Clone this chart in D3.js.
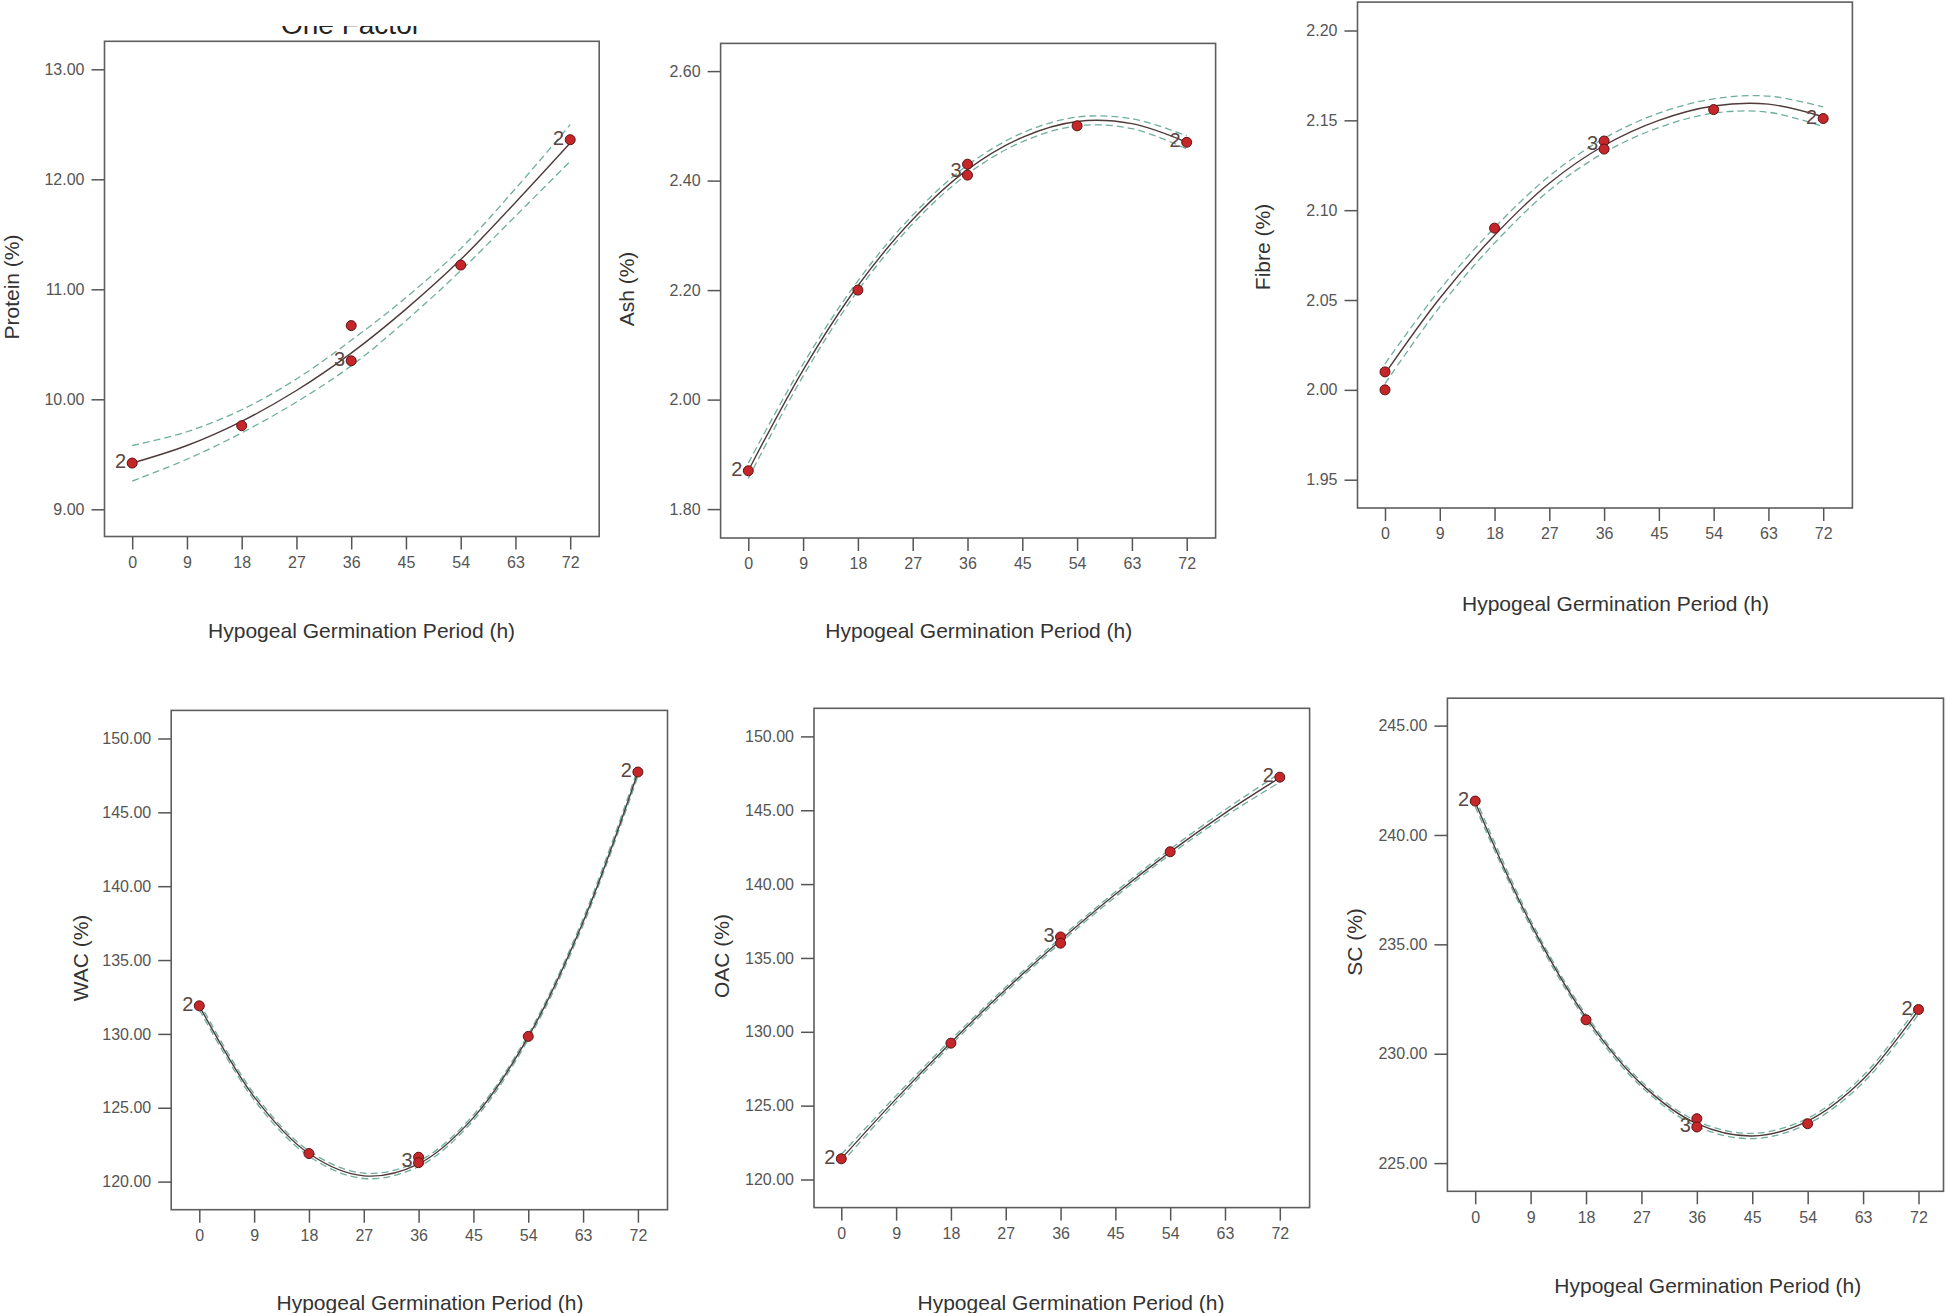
<!DOCTYPE html>
<html>
<head>
<meta charset="utf-8">
<script src="https://cdn.jsdelivr.net/npm/d3@7"></script>
<style>
  html, body { margin: 0; padding: 0; background: #ffffff; }
  svg { display: block; }
</style>
</head>
<body>
<svg id="chart" width="1946" height="1313"></svg>
<script>
// ---------------- DATA ----------------
const xTickValues = [0, 9, 18, 27, 36, 45, 54, 63, 72];
const fitHours = [0, 9, 18, 27, 36, 45, 54, 63, 72];
const xTitleText = "Hypogeal Germination Period (h)";
const topTitleText = "One Factor";

// Protein
const proteinX = [0, 18, 36, 36, 54, 72];
const proteinY = [9.42, 9.76, 10.67, 10.35, 11.22, 12.36];
const proteinFit = [9.42, 9.58, 9.80, 10.08, 10.42, 10.82, 11.27, 11.79, 12.33];
const proteinUpper = [9.58, 9.705, 9.905, 10.185, 10.536, 10.925, 11.37, 11.915, 12.497];
const proteinLower = [9.257, 9.455, 9.695, 9.975, 10.304, 10.715, 11.17, 11.665, 12.163];
const proteinTicks = [9, 10, 11, 12, 13];
const proteinLabelX = [0, 36, 72];
const proteinLabelY = [9.42, 10.35, 12.36];
const proteinLabelText = ["2", "3", "2"];

// Ash
const ashX = [0, 18, 36, 36, 54, 72];
const ashY = [1.87, 2.20, 2.43, 2.41, 2.50, 2.47];
const ashFit = [1.87, 2.054, 2.208, 2.329, 2.42, 2.479, 2.508, 2.504, 2.47];
const ashUpper = [1.884, 2.065, 2.217, 2.337, 2.428, 2.487, 2.516, 2.513, 2.482];
const ashLower = [1.856, 2.043, 2.199, 2.321, 2.412, 2.471, 2.500, 2.495, 2.458];
const ashTicks = [1.8, 2.0, 2.2, 2.4, 2.6];
const ashLabelX = [0, 36, 72];
const ashLabelY = [1.87, 2.415, 2.47];
const ashLabelText = ["2", "3", "2"];

// Fibre
const fibreX = [0, 0, 18, 36, 36, 54, 72];
const fibreY = [2.01, 2.00, 2.09, 2.1385, 2.134, 2.156, 2.151];
const fibreFit = [2.009, 2.051, 2.086, 2.115, 2.136, 2.150, 2.158, 2.159, 2.152];
const fibreUpper = [2.0145, 2.0558, 2.0903, 2.119, 2.140, 2.154, 2.162, 2.1635, 2.1575];
const fibreLower = [2.0035, 2.0462, 2.0817, 2.111, 2.132, 2.146, 2.154, 2.1545, 2.1465];
const fibreTicks = [1.95, 2.00, 2.05, 2.10, 2.15, 2.20];
const fibreLabelX = [36, 72];
const fibreLabelY = [2.136, 2.151];
const fibreLabelText = ["3", "2"];

// WAC
const wacX = [0, 18, 36, 36, 54, 72];
const wacY = [131.9, 121.9, 121.65, 121.28, 129.83, 147.73];
const wacFit = [131.9, 125.74, 121.90, 120.39, 121.2, 124.33, 129.80, 137.58, 147.7];
const wacUpper = [132.15, 125.95, 122.08, 120.57, 121.38, 124.51, 129.98, 137.8, 147.95];
const wacLower = [131.65, 125.53, 121.72, 120.21, 121.02, 124.15, 129.62, 137.36, 147.45];
const wacTicks = [120, 125, 130, 135, 140, 145, 150];
const wacLabelX = [0, 36, 72];
const wacLabelY = [131.9, 121.3, 147.73];
const wacLabelText = ["2", "3", "2"];

// OAC
const oacX = [0, 18, 36, 36, 54, 72];
const oacY = [121.4, 129.23, 136.42, 136.0, 142.19, 147.24];
const oacFit = [121.4, 125.46, 129.28, 132.86, 136.2, 139.31, 142.18, 144.81, 147.2];
const oacUpper = [121.7, 125.68, 129.46, 133.03, 136.37, 139.48, 142.36, 145.03, 147.5];
const oacLower = [121.1, 125.24, 129.1, 132.69, 136.03, 139.14, 142.0, 144.59, 146.9];
const oacTicks = [120, 125, 130, 135, 140, 145, 150];
const oacLabelX = [0, 36, 72];
const oacLabelY = [121.4, 136.42, 147.24];
const oacLabelText = ["2", "3", "2"];

// SC
const scX = [0, 18, 36, 36, 54, 72];
const scY = [241.55, 231.55, 227.03, 226.65, 226.8, 232.02];
const scFit = [241.5, 235.96, 231.66, 228.61, 226.8, 226.24, 226.92, 228.83, 232.0];
const scUpper = [241.7, 236.11, 231.79, 228.73, 226.92, 226.36, 227.05, 228.99, 232.2];
const scLower = [241.3, 235.81, 231.53, 228.49, 226.68, 226.12, 226.79, 228.67, 231.8];
const scTicks = [225, 230, 235, 240, 245];
const scLabelX = [0, 36, 72];
const scLabelY = [241.55, 226.65, 232.02];
const scLabelText = ["2", "3", "2"];

// ---------------- LAYOUT ----------------
const panels = [
  { yTitle: "Protein (%)", x: proteinX, y: proteinY, fit: proteinFit, up: proteinUpper, lo: proteinLower,
    ticks: proteinTicks, fmt: ".2f", lx: proteinLabelX, ly: proteinLabelY, lt: proteinLabelText,
    frame: [104.5, 41.3, 599.2, 536.5], xr: [132.2, 570.2], yd: [9, 13], yr: [509.3, 69.3],
    xt: [361.6, 630], yt: [11, 287] },
  { yTitle: "Ash (%)", x: ashX, y: ashY, fit: ashFit, up: ashUpper, lo: ashLower,
    ticks: ashTicks, fmt: ".2f", lx: ashLabelX, ly: ashLabelY, lt: ashLabelText,
    frame: [720.6, 43.4, 1215.6, 538], xr: [748.3, 1186.7], yd: [1.8, 2.6], yr: [509.1, 71.1],
    xt: [978.8, 630], yt: [626, 289] },
  { yTitle: "Fibre (%)", x: fibreX, y: fibreY, fit: fibreFit, up: fibreUpper, lo: fibreLower,
    ticks: fibreTicks, fmt: ".2f", lx: fibreLabelX, ly: fibreLabelY, lt: fibreLabelText,
    frame: [1357.5, 2.1, 1852.4, 508], xr: [1385, 1823.2], yd: [1.95, 2.20], yr: [479.7, 30.5],
    xt: [1615.5, 603.3], yt: [1262, 247] },
  { yTitle: "WAC (%)", x: wacX, y: wacY, fit: wacFit, up: wacUpper, lo: wacLower,
    ticks: wacTicks, fmt: ".2f", lx: wacLabelX, ly: wacLabelY, lt: wacLabelText,
    frame: [171.2, 710.4, 667.5, 1209.7], xr: [199.3, 637.9], yd: [120, 150], yr: [1181.6, 738.5],
    xt: [430, 1302], yt: [80, 958] },
  { yTitle: "OAC (%)", x: oacX, y: oacY, fit: oacFit, up: oacUpper, lo: oacLower,
    ticks: oacTicks, fmt: ".2f", lx: oacLabelX, ly: oacLabelY, lt: oacLabelText,
    frame: [814, 708.3, 1309.6, 1207.6], xr: [841.3, 1279.8], yd: [120, 150], yr: [1179.5, 736.4],
    xt: [1071, 1302], yt: [721, 956] },
  { yTitle: "SC (%)", x: scX, y: scY, fit: scFit, up: scUpper, lo: scLower,
    ticks: scTicks, fmt: ".2f", lx: scLabelX, ly: scLabelY, lt: scLabelText,
    frame: [1447.4, 698.2, 1943.5, 1191.3], xr: [1475.2, 1918.5], yd: [225, 245], yr: [1163.1, 725.6],
    xt: [1707.8, 1285], yt: [1354, 942] }
];

const svg = d3.select("#chart");
const tickFont = "'Liberation Sans Narrow', 'Arial Narrow', 'Liberation Sans', Arial, sans-serif";
const titleFont = "'Liberation Sans', Arial, sans-serif";

// Top (cropped) title
svg.append("defs").append("clipPath").attr("id", "titleClip")
  .append("rect").attr("x", 200).attr("y", 26).attr("width", 300).attr("height", 14);
svg.append("text")
  .attr("clip-path", "url(#titleClip)")
  .attr("x", 351).attr("y", 33.5)
  .attr("text-anchor", "middle")
  .attr("font-family", titleFont)
  .attr("font-size", 28)
  .attr("fill", "#222")
  .text(topTitleText);

panels.forEach((p, i) => {
  const [L, T, R, B] = p.frame;
  const xs = d3.scaleLinear().domain([0, 72]).range(p.xr);
  const ys = d3.scaleLinear().domain(p.yd).range(p.yr);
  const g = svg.append("g").attr("class", "panel panel-" + i);

  // frame
  g.append("rect")
    .attr("x", L).attr("y", T).attr("width", R - L).attr("height", B - T)
    .attr("fill", "#ffffff").attr("stroke", "#5e5e5e").attr("stroke-width", 1.6);

  // y axis (ticks outside the left frame edge)
  const yAxis = d3.axisLeft(ys).tickValues(p.ticks).tickFormat(d3.format(p.fmt))
    .tickSize(13).tickPadding(7);
  const yg = g.append("g").attr("transform", `translate(${L},0)`).call(yAxis);
  yg.select(".domain").remove();
  yg.selectAll(".tick line").attr("stroke", "#555").attr("stroke-width", 1.5);
  yg.selectAll(".tick text").attr("font-family", tickFont).attr("font-size", 16).attr("fill", "#555");

  // x axis (ticks below the bottom frame edge)
  const xAxis = d3.axisBottom(xs).tickValues(xTickValues).tickFormat(d3.format("d"))
    .tickSize(13).tickPadding(7);
  const xg = g.append("g").attr("transform", `translate(0,${B})`).call(xAxis);
  xg.select(".domain").remove();
  xg.selectAll(".tick line").attr("stroke", "#555").attr("stroke-width", 1.5);
  xg.selectAll(".tick text").attr("font-family", tickFont).attr("font-size", 16).attr("fill", "#555");

  // axis titles
  g.append("text")
    .attr("x", p.xt[0]).attr("y", p.xt[1])
    .attr("text-anchor", "middle").attr("dominant-baseline", "central")
    .attr("font-family", titleFont).attr("font-size", 21).attr("fill", "#333")
    .text(xTitleText);
  g.append("text")
    .attr("transform", `translate(${p.yt[0]},${p.yt[1]}) rotate(-90)`)
    .attr("text-anchor", "middle").attr("dominant-baseline", "central")
    .attr("font-family", titleFont).attr("font-size", 21).attr("fill", "#333")
    .text(p.yTitle);

  // curves
  const mk = arr => fitHours.map((h, k) => [h, arr[k]]);
  const line = d3.line().x(d => xs(d[0])).y(d => ys(d[1])).curve(d3.curveCatmullRom.alpha(0.5));
  [p.up, p.lo].forEach(arr => {
    g.append("path").attr("d", line(mk(arr)))
      .attr("fill", "none").attr("stroke", "#6fae9f").attr("stroke-width", 1.3)
      .attr("stroke-dasharray", "7,4");
  });
  g.append("path").attr("d", line(mk(p.fit)))
    .attr("fill", "none").attr("stroke", "#4f3a3a").attr("stroke-width", 1.4);

  // replicate count labels
  p.lt.forEach((t, k) => {
    g.append("text")
      .attr("x", xs(p.lx[k]) - 6).attr("y", ys(p.ly[k]) + 5)
      .attr("text-anchor", "end")
      .attr("font-family", titleFont).attr("font-size", 20).attr("fill", "#5a4743")
      .text(t);
  });

  // points
  g.selectAll("circle.pt").data(p.x.map((h, k) => [h, p.y[k]])).enter()
    .append("circle").attr("class", "pt")
    .attr("cx", d => xs(d[0])).attr("cy", d => ys(d[1])).attr("r", 5)
    .attr("fill", "#c4262a").attr("stroke", "#5e1414").attr("stroke-width", 1);
});
</script>
</body>
</html>
